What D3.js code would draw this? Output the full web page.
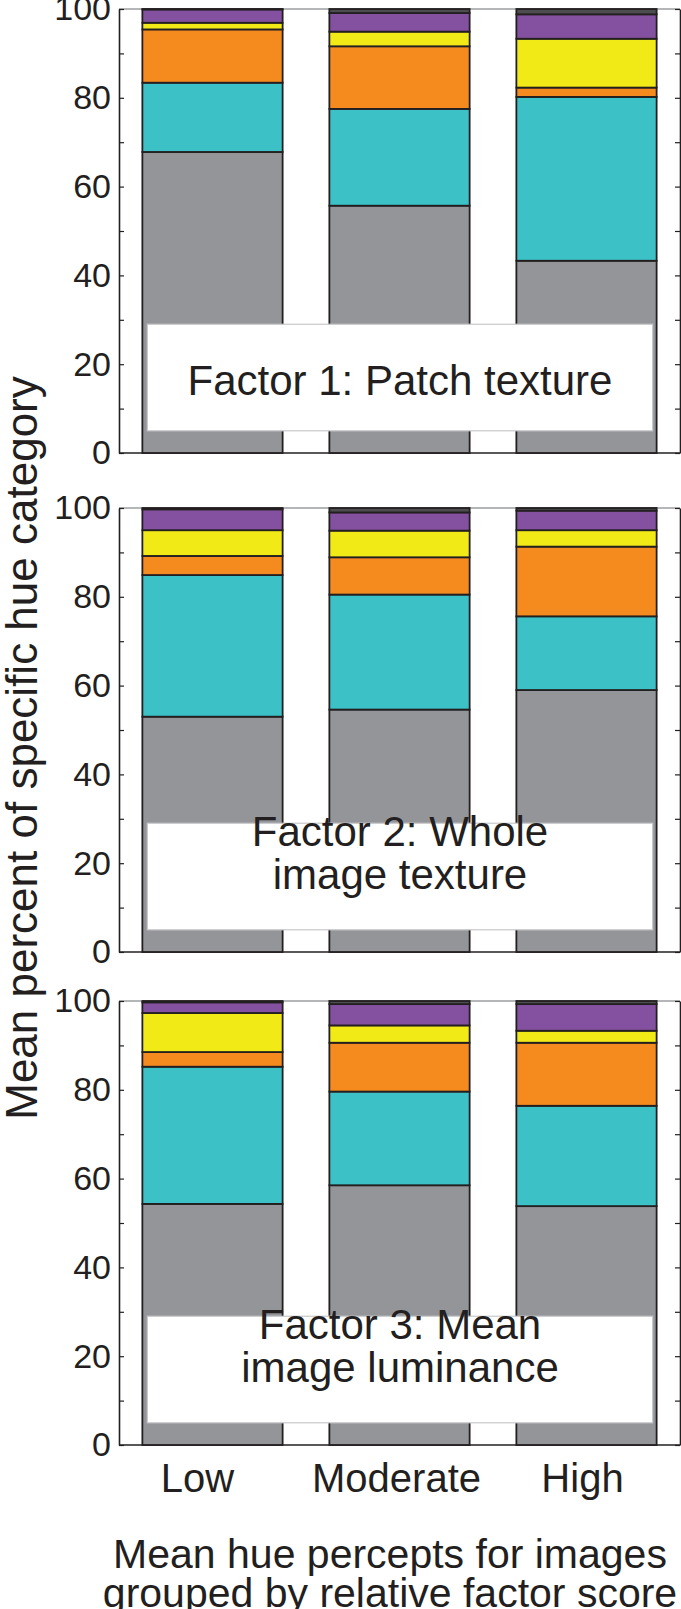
<!DOCTYPE html>
<html>
<head>
<meta charset="utf-8">
<script src="https://cdn.jsdelivr.net/npm/d3@7.9.0/dist/d3.min.js"></script>
<style>
  body { margin: 0; background: #fff; }
  svg { display: block; }
</style>
</head>
<body>
<div id="chart"></div>
<script>
// categories and data (percent of each hue category, bottom to top)
const groups = ["Low", "Moderate", "High"];
const hueKeys = ["gray", "cyan", "orange", "yellow", "purple", "dark"];
const hueColors = ["#939598", "#3cc1c6", "#f58a1f", "#f2ea17", "#83519f", "#4d4d4f"];

const factor1 = [
  [67.8, 15.6, 12.0, 1.5, 3.0, 0.1],
  [55.7, 21.8, 14.1, 3.3, 4.2, 0.9],
  [43.3, 36.9, 2.1, 11.0, 5.5, 1.2]
];
const factor2 = [
  [53.0, 31.9, 4.3, 5.8, 4.7, 0.3],
  [54.6, 25.9, 8.4, 6.0, 4.1, 1.0],
  [59.0, 16.6, 15.7, 3.7, 4.4, 0.6]
];
const factor3 = [
  [54.3, 30.9, 3.3, 8.8, 2.4, 0.3],
  [58.5, 21.1, 11.0, 3.9, 4.8, 0.7],
  [53.8, 22.6, 14.2, 2.7, 6.0, 0.7]
];
const panelLabels = [
  ["Factor 1: Patch texture"],
  ["Factor 2: Whole", "image texture"],
  ["Factor 3: Mean", "image luminance"]
];
const yTicks = [0, 10, 20, 30, 40, 50, 60, 70, 80, 90, 100];

const width = 681, height = 1609;
const left = 119, right = 680;
const panelTops = [9, 508, 1001];
const panelH = 444;
const ink = "#231f20";
// category labels are not quite centred under the bars in the original
const labelShift = [-15, -3, -4];

const svg = d3.select("#chart").append("svg")
  .attr("width", width)
  .attr("height", height)
  .style("font-family", "'Liberation Sans', Arial, sans-serif");

const x = d3.scaleBand().domain(groups).range([left, right])
  .paddingInner(0.25).paddingOuter(0.125);

const color = d3.scaleOrdinal().domain(hueKeys).range(hueColors);
const stack = d3.stack().keys(hueKeys)
  .value((d, k) => d.vals[hueKeys.indexOf(k)]);

[factor1, factor2, factor3].forEach((factor, p) => {
  const top = panelTops[p];
  const y = d3.scaleLinear().domain([0, 100]).range([top + panelH, top]);
  const g = svg.append("g");

  // frame
  g.append("line")
    .attr("x1", left).attr("x2", right)
    .attr("y1", y(100)).attr("y2", y(100))
    .attr("stroke", "#6d6e70").attr("stroke-width", 1.2);
  g.append("line")
    .attr("x1", left).attr("x2", right)
    .attr("y1", y(0)).attr("y2", y(0))
    .attr("stroke", ink).attr("stroke-width", 1.6);

  const axL = g.append("g")
    .attr("transform", `translate(${left},0)`)
    .call(d3.axisLeft(y).tickValues(yTicks).tickSize(-5).tickSizeOuter(0).tickPadding(8)
      .tickFormat(d => d % 20 === 0 ? d : ""));
  axL.selectAll("text")
    .attr("font-size", 34)
    .attr("font-family", "'Liberation Sans', Arial, sans-serif")
    .attr("fill", ink);
  const axR = g.append("g")
    .attr("transform", `translate(${right},0)`)
    .call(d3.axisRight(y).tickValues(yTicks).tickSize(-5).tickSizeOuter(0).tickFormat(""));
  [axL, axR].forEach(a => {
    a.select(".domain").attr("stroke", ink).attr("stroke-width", 1.6);
    a.selectAll(".tick line").attr("stroke", ink).attr("stroke-width", 1.2);
  });

  // stacked bars
  const rows = factor.map((vals, i) => ({ group: groups[i], vals }));
  const series = stack(rows);
  g.append("g").selectAll("g")
    .data(series)
    .join("g")
    .attr("fill", d => color(d.key))
    .selectAll("rect")
    .data(d => d)
    .join("rect")
    .attr("x", d => x(d.data.group))
    .attr("width", x.bandwidth())
    .attr("y", d => y(d[1]))
    .attr("height", d => y(d[0]) - y(d[1]))
    .attr("stroke", ink)
    .attr("stroke-width", 1.8);

  // label box
  const bx0 = x(groups[0]) + 5;
  const bx1 = x(groups[2]) + x.bandwidth() - 4;
  g.append("rect")
    .attr("x", bx0)
    .attr("y", y(29))
    .attr("width", bx1 - bx0)
    .attr("height", y(5) - y(29))
    .attr("fill", "#fff")
    .attr("stroke", "#c9c9cb")
    .attr("stroke-width", 1.2);

  const lines = panelLabels[p];
  const baseOffsets = lines.length === 1 ? [58] : [106, 63];
  g.selectAll(".plabel")
    .data(lines)
    .join("text")
    .attr("class", "plabel")
    .attr("x", (bx0 + bx1) / 2)
    .attr("y", (d, i) => y(0) - baseOffsets[i])
    .attr("text-anchor", "middle")
    .attr("font-size", 42)
    .attr("fill", ink)
    .text(d => d);
});

// x category labels under last panel
svg.append("g").selectAll("text")
  .data(groups)
  .join("text")
  .attr("x", (d, i) => x(d) + x.bandwidth() / 2 + labelShift[i])
  .attr("y", 1492)
  .attr("text-anchor", "middle")
  .attr("font-size", 40)
  .attr("fill", ink)
  .text(d => d);

// axis titles
svg.append("text")
  .attr("transform", "translate(37,748) rotate(-90)")
  .attr("text-anchor", "middle")
  .attr("font-size", 44)
  .attr("fill", ink)
  .text("Mean percent of specific hue category");

svg.append("g").selectAll("text")
  .data(["Mean hue percepts for images", "grouped by relative factor score"])
  .join("text")
  .attr("x", 390)
  .attr("y", (d, i) => 1568 + i * 39)
  .attr("text-anchor", "middle")
  .attr("font-size", 41)
  .attr("fill", ink)
  .text(d => d);
</script>
</body>
</html>
